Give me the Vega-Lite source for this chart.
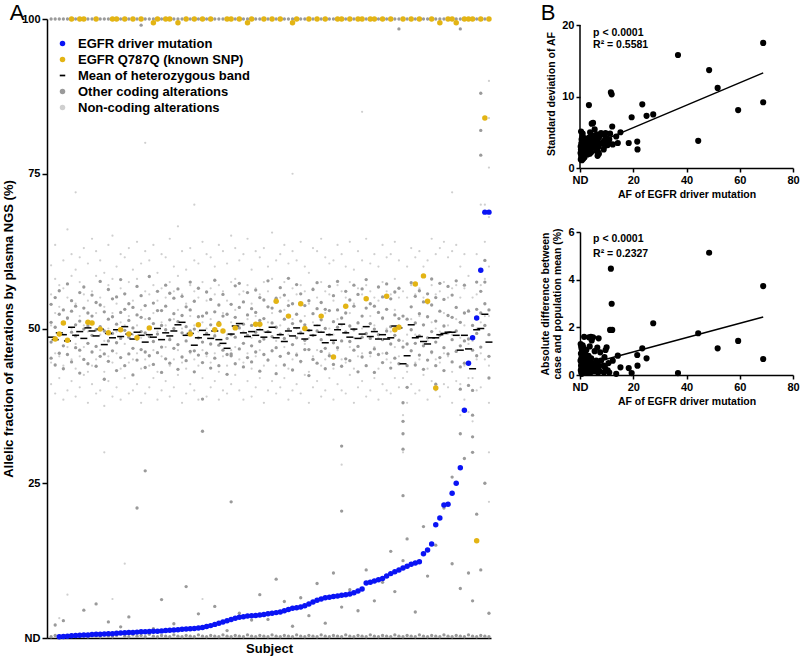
{
"$schema": "https://vega.github.io/schema/vega-lite/v6.json",
"background": "white",
"padding": {"left": 2, "top": 1, "right": 1, "bottom": 1},
"spacing": 44,
"config": {
  "font": "Liberation Sans",
  "view": {"stroke": null},
  "axis": {"grid": false, "domainColor": "black", "tickColor": "black", "labelColor": "black", "titleColor": "black", "labelFont": "Liberation Sans", "titleFont": "Liberation Sans", "labelFontWeight": "bold", "titleFontWeight": "bold", "domainWidth": 1.5, "tickWidth": 1.5}
},
"datasets": {
"drv": [{"s":3,"v":0.2},{"s":4,"v":0.25},{"s":5,"v":0.3},{"s":6,"v":0.35},{"s":7,"v":0.4},{"s":8,"v":0.45},{"s":9,"v":0.5},{"s":10,"v":0.5},{"s":11,"v":0.55},{"s":12,"v":0.6},{"s":13,"v":0.6},{"s":14,"v":0.65},{"s":15,"v":0.7},{"s":16,"v":0.7},{"s":17,"v":0.75},{"s":18,"v":0.8},{"s":19,"v":0.85},{"s":20,"v":0.9},{"s":21,"v":0.9},{"s":22,"v":0.95},{"s":23,"v":1.0},{"s":24,"v":1.0},{"s":25,"v":1.05},{"s":26,"v":1.1},{"s":27,"v":1.1},{"s":28,"v":1.15},{"s":29,"v":1.2},{"s":30,"v":1.25},{"s":31,"v":1.3},{"s":32,"v":1.35},{"s":33,"v":1.4},{"s":34,"v":1.45},{"s":35,"v":1.5},{"s":36,"v":1.55},{"s":37,"v":1.6},{"s":38,"v":1.7},{"s":39,"v":1.85},{"s":40,"v":2.0},{"s":41,"v":2.2},{"s":42,"v":2.4},{"s":43,"v":2.6},{"s":44,"v":2.8},{"s":45,"v":3.0},{"s":46,"v":3.2},{"s":47,"v":3.35},{"s":48,"v":3.45},{"s":49,"v":3.55},{"s":50,"v":3.6},{"s":51,"v":3.65},{"s":52,"v":3.7},{"s":53,"v":3.8},{"s":54,"v":3.9},{"s":55,"v":4.0},{"s":56,"v":4.1},{"s":57,"v":4.2},{"s":58,"v":4.4},{"s":59,"v":4.6},{"s":60,"v":4.8},{"s":61,"v":4.9},{"s":62,"v":5.0},{"s":63,"v":5.2},{"s":64,"v":5.5},{"s":65,"v":5.8},{"s":66,"v":6.1},{"s":67,"v":6.3},{"s":68,"v":6.5},{"s":69,"v":6.6},{"s":70,"v":6.7},{"s":71,"v":6.8},{"s":72,"v":6.9},{"s":73,"v":7.0},{"s":74,"v":7.1},{"s":75,"v":7.3},{"s":76,"v":7.6},{"s":77,"v":7.9},{"s":78,"v":8.9},{"s":79,"v":9.0},{"s":80,"v":9.2},{"s":81,"v":9.4},{"s":82,"v":9.6},{"s":83,"v":10.0},{"s":84,"v":10.4},{"s":85,"v":10.7},{"s":86,"v":11.0},{"s":87,"v":11.3},{"s":88,"v":11.6},{"s":89,"v":11.9},{"s":90,"v":12.1},{"s":91,"v":12.3},{"s":92,"v":13.6},{"s":93,"v":14.2},{"s":94,"v":15.2},{"s":95,"v":18.3},{"s":96,"v":19.4},{"s":97,"v":21.5},{"s":98,"v":21.6},{"s":99,"v":23.4},{"s":100,"v":25.0},{"s":101,"v":27.5},{"s":102,"v":36.8},{"s":103,"v":44.4},{"s":104,"v":48.5},{"s":105,"v":51.7},{"s":106,"v":59.4},{"s":107,"v":68.8},{"s":108,"v":68.8}],
"snp": [{"s":2,"v":48.3},{"s":3,"v":49.1},{"s":4,"v":50.9},{"s":5,"v":48.1},{"s":10,"v":51.0},{"s":11,"v":50.9},{"s":13,"v":49.9},{"s":15,"v":49.3},{"s":18,"v":49.8},{"s":20,"v":49.1},{"s":22,"v":48.5},{"s":25,"v":50.1},{"s":35,"v":49.1},{"s":37,"v":50.6},{"s":41,"v":49.8},{"s":42,"v":50.7},{"s":43,"v":49.6},{"s":46,"v":50.1},{"s":51,"v":50.7},{"s":52,"v":50.7},{"s":56,"v":54.4},{"s":59,"v":52.0},{"s":62,"v":54.0},{"s":63,"v":50.0},{"s":67,"v":52.0},{"s":70,"v":45.4},{"s":73,"v":53.6},{"s":78,"v":54.8},{"s":83,"v":55.2},{"s":85,"v":49.8},{"s":86,"v":50.2},{"s":90,"v":57.2},{"s":92,"v":58.5},{"s":93,"v":54.4},{"s":95,"v":40.4},{"s":105,"v":15.7},{"s":107,"v":84.0},
{"s":6,"v":100},{"s":8,"v":100},{"s":9,"v":100},{"s":12,"v":100},{"s":16,"v":100},{"s":17,"v":100},{"s":19,"v":100},{"s":21,"v":100},{"s":23,"v":100},{"s":26,"v":99.4},{"s":27,"v":100},{"s":29,"v":100},{"s":30,"v":100},{"s":32,"v":99.4},{"s":34,"v":100},{"s":36,"v":100},{"s":38,"v":100},{"s":40,"v":100},{"s":44,"v":100},{"s":45,"v":100},{"s":47,"v":100},{"s":49,"v":99.4},{"s":50,"v":100},{"s":53,"v":100},{"s":55,"v":100},{"s":57,"v":100},{"s":60,"v":99.4},{"s":61,"v":100},{"s":64,"v":100},{"s":66,"v":100},{"s":68,"v":100},{"s":71,"v":100},{"s":72,"v":100},{"s":74,"v":100},{"s":76,"v":100},{"s":77,"v":100},{"s":79,"v":100},{"s":80,"v":100},{"s":82,"v":100},{"s":84,"v":100},{"s":87,"v":100},{"s":89,"v":100},{"s":91,"v":100},{"s":94,"v":100},{"s":96,"v":99.4},{"s":98,"v":100},{"s":99,"v":100},{"s":100,"v":99.4},{"s":102,"v":100},{"s":103,"v":100},{"s":104,"v":100},{"s":106,"v":100},{"s":108,"v":100}],
"mean": [{"s":1,"v":48.6},{"s":2,"v":48.2},{"s":3,"v":49.3},{"s":4,"v":49.0},{"s":5,"v":48.0},{"s":6,"v":50.2},{"s":7,"v":48.9},{"s":8,"v":49.5},{"s":9,"v":48.4},{"s":10,"v":50.1},{"s":11,"v":49.6},{"s":12,"v":48.8},{"s":13,"v":49.9},{"s":14,"v":47.4},{"s":15,"v":49.2},{"s":16,"v":48.5},{"s":17,"v":49.8},{"s":18,"v":48.7},{"s":19,"v":50.3},{"s":20,"v":49.1},{"s":21,"v":48.3},{"s":22,"v":49.4},{"s":23,"v":48.9},{"s":24,"v":47.8},{"s":25,"v":49.0},{"s":26,"v":48.6},{"s":27,"v":50.0},{"s":28,"v":48.2},{"s":29,"v":49.3},{"s":30,"v":48.8},{"s":31,"v":49.6},{"s":32,"v":50.6},{"s":33,"v":51.0},{"s":34,"v":48.9},{"s":35,"v":49.2},{"s":36,"v":47.3},{"s":37,"v":48.5},{"s":38,"v":49.7},{"s":39,"v":49.0},{"s":40,"v":48.4},{"s":41,"v":49.6},{"s":42,"v":48.2},{"s":43,"v":47.6},{"s":44,"v":46.8},{"s":45,"v":49.1},{"s":46,"v":50.4},{"s":47,"v":50.8},{"s":48,"v":49.3},{"s":49,"v":48.7},{"s":50,"v":49.5},{"s":51,"v":48.9},{"s":52,"v":49.8},{"s":53,"v":48.6},{"s":54,"v":49.4},{"s":55,"v":50.2},{"s":56,"v":48.5},{"s":57,"v":49.0},{"s":58,"v":47.9},{"s":59,"v":49.6},{"s":60,"v":48.8},{"s":61,"v":50.1},{"s":62,"v":49.2},{"s":63,"v":48.3},{"s":64,"v":49.7},{"s":65,"v":48.9},{"s":66,"v":50.5},{"s":67,"v":49.4},{"s":68,"v":47.7},{"s":69,"v":49.0},{"s":70,"v":48.1},{"s":71,"v":49.8},{"s":72,"v":50.7},{"s":73,"v":49.3},{"s":74,"v":48.6},{"s":75,"v":49.9},{"s":76,"v":48.4},{"s":77,"v":49.1},{"s":78,"v":50.3},{"s":79,"v":48.7},{"s":80,"v":49.5},{"s":81,"v":48.3},{"s":82,"v":49.0},{"s":83,"v":48.3},{"s":84,"v":48.5},{"s":85,"v":50.4},{"s":86,"v":50.1},{"s":87,"v":44.3},{"s":88,"v":45.6},{"s":89,"v":50.6},{"s":90,"v":48.5},{"s":91,"v":48.7},{"s":92,"v":47.9},{"s":93,"v":47.5},{"s":94,"v":48.5},{"s":95,"v":48.5},{"s":96,"v":49.0},{"s":97,"v":49.2},{"s":98,"v":49.4},{"s":99,"v":49.4},{"s":100,"v":48.9},{"s":101,"v":46.5},{"s":102,"v":48.9},{"s":103,"v":46.7},{"s":104,"v":43.5},{"s":105,"v":49.8},{"s":106,"v":50.0},{"s":107,"v":52.3},{"s":108,"v":47.8}],
"cod": [
{"s":1,"v":100},{"s":1,"v":45.2},{"s":1,"v":47.8},{"s":1,"v":51.0},{"s":1,"v":53.9},{"s":1,"v":0.2},
{"s":2,"v":100},{"s":2,"v":44.1},{"s":2,"v":48.5},{"s":2,"v":50.2},{"s":2,"v":55.0},{"s":2,"v":0.4},{"s":2,"v":2.1},
{"s":3,"v":100},{"s":3,"v":46.0},{"s":3,"v":49.0},{"s":3,"v":52.3},{"s":3,"v":56.1},{"s":3,"v":0.3},
{"s":4,"v":100},{"s":4,"v":43.5},{"s":4,"v":47.2},{"s":4,"v":50.9},{"s":4,"v":53.0},{"s":4,"v":2.8},
{"s":5,"v":100},{"s":5,"v":45.8},{"s":5,"v":48.1},{"s":5,"v":51.7},{"s":5,"v":57.2},{"s":5,"v":0.2},
{"s":6,"v":100},{"s":6,"v":44.6},{"s":6,"v":49.4},{"s":6,"v":52.8},{"s":6,"v":54.5},{"s":6,"v":0.5},
{"s":7,"v":100},{"s":7,"v":46.9},{"s":7,"v":48.8},{"s":7,"v":50.6},{"s":7,"v":53.6},
{"s":8,"v":100},{"s":8,"v":42.8},{"s":8,"v":46.5},{"s":8,"v":51.2},{"s":8,"v":55.8},{"s":8,"v":0.3},
{"s":9,"v":100},{"s":9,"v":45.0},{"s":9,"v":49.9},{"s":9,"v":53.3},{"s":9,"v":56.7},{"s":9,"v":0.4},{"s":9,"v":4.5},
{"s":10,"v":100},{"s":10,"v":44.3},{"s":10,"v":47.6},{"s":10,"v":50.4},{"s":10,"v":52.5},{"s":10,"v":0.2},
{"s":11,"v":100},{"s":11,"v":46.2},{"s":11,"v":48.9},{"s":11,"v":52.0},{"s":11,"v":55.4},{"s":11,"v":0.6},
{"s":12,"v":100},{"s":12,"v":43.9},{"s":12,"v":47.1},{"s":12,"v":49.8},{"s":12,"v":54.2},{"s":12,"v":0.3},{"s":12,"v":5.5},
{"s":13,"v":100},{"s":13,"v":45.5},{"s":13,"v":50.3},{"s":13,"v":53.8},{"s":13,"v":57.6},{"s":13,"v":0.2},
{"s":14,"v":100},{"s":14,"v":41.8},{"s":14,"v":45.9},{"s":14,"v":49.6},{"s":14,"v":52.7},{"s":14,"v":0.5},
{"s":15,"v":100},{"s":15,"v":44.7},{"s":15,"v":48.0},{"s":15,"v":51.5},{"s":15,"v":56.3},{"s":15,"v":0.3},{"s":15,"v":2.6},
{"s":16,"v":100},{"s":16,"v":46.4},{"s":16,"v":49.2},{"s":16,"v":51.9},{"s":16,"v":54.8},{"s":16,"v":0.2},
{"s":17,"v":100},{"s":17,"v":43.2},{"s":17,"v":47.7},{"s":17,"v":50.7},{"s":17,"v":55.1},{"s":17,"v":0.4},
{"s":18,"v":100},{"s":18,"v":45.3},{"s":18,"v":48.4},{"s":18,"v":52.6},{"s":18,"v":57.9},{"s":18,"v":1.8},
{"s":19,"v":100},{"s":19,"v":44.0},{"s":19,"v":49.7},{"s":19,"v":53.1},{"s":19,"v":55.6},{"s":19,"v":0.3},
{"s":20,"v":100},{"s":20,"v":45.9},{"s":20,"v":48.6},{"s":20,"v":51.3},{"s":20,"v":54.0},{"s":20,"v":0.2},{"s":20,"v":3.4},
{"s":21,"v":100},{"s":21,"v":42.5},{"s":21,"v":46.8},{"s":21,"v":50.1},{"s":21,"v":53.4},{"s":21,"v":0.5},
{"s":22,"v":100},{"s":22,"v":44.9},{"s":22,"v":48.3},{"s":22,"v":52.2},{"s":22,"v":56.8},{"s":22,"v":0.3},{"s":22,"v":21.0},
{"s":23,"v":100},{"s":23,"v":99.0},{"s":23,"v":46.6},{"s":23,"v":49.5},{"s":23,"v":51.8},{"s":23,"v":55.3},{"s":23,"v":0.4},
{"s":24,"v":100},{"s":24,"v":43.7},{"s":24,"v":46.2},{"s":24,"v":49.3},{"s":24,"v":53.7},{"s":24,"v":0.2},{"s":24,"v":27.0},
{"s":25,"v":100},{"s":25,"v":45.6},{"s":25,"v":48.7},{"s":25,"v":51.6},{"s":25,"v":58.4},{"s":25,"v":0.6},
{"s":26,"v":100},{"s":26,"v":44.2},{"s":26,"v":47.9},{"s":26,"v":50.8},{"s":26,"v":54.1},{"s":26,"v":0.3},{"s":26,"v":1.5},
{"s":27,"v":100},{"s":27,"v":46.1},{"s":27,"v":49.1},{"s":27,"v":52.9},{"s":27,"v":56.0},{"s":27,"v":0.2},
{"s":28,"v":100},{"s":28,"v":42.9},{"s":28,"v":47.0},{"s":28,"v":50.5},{"s":28,"v":52.9},{"s":28,"v":0.4},{"s":28,"v":6.2},
{"s":29,"v":100},{"s":29,"v":45.1},{"s":29,"v":49.8},{"s":29,"v":53.6},{"s":29,"v":57.0},{"s":29,"v":0.3},
{"s":30,"v":100},{"s":30,"v":44.4},{"s":30,"v":48.2},{"s":30,"v":51.4},{"s":30,"v":55.7},{"s":30,"v":0.2},
{"s":31,"v":100},{"s":31,"v":46.8},{"s":31,"v":50.0},{"s":31,"v":52.4},{"s":31,"v":54.9},{"s":31,"v":0.5},{"s":31,"v":2.3},
{"s":32,"v":100},{"s":32,"v":43.4},{"s":32,"v":47.4},{"s":32,"v":51.1},{"s":32,"v":56.4},{"s":32,"v":0.3},
{"s":33,"v":100},{"s":33,"v":45.4},{"s":33,"v":49.3},{"s":33,"v":52.1},{"s":33,"v":55.2},{"s":33,"v":0.2},
{"s":34,"v":100},{"s":34,"v":44.8},{"s":34,"v":48.0},{"s":34,"v":50.3},{"s":34,"v":53.5},{"s":34,"v":0.4},{"s":34,"v":8.3},
{"s":35,"v":100},{"s":35,"v":46.3},{"s":35,"v":49.6},{"s":35,"v":53.0},{"s":35,"v":57.5},{"s":35,"v":0.3},
{"s":36,"v":100},{"s":36,"v":43.0},{"s":36,"v":46.4},{"s":36,"v":49.9},{"s":36,"v":54.4},{"s":36,"v":0.2},
{"s":37,"v":100},{"s":37,"v":45.7},{"s":37,"v":48.5},{"s":37,"v":51.9},{"s":37,"v":56.5},{"s":37,"v":0.5},{"s":37,"v":3.9},
{"s":38,"v":100},{"s":38,"v":44.5},{"s":38,"v":47.8},{"s":38,"v":38.6},{"s":38,"v":33.4},{"s":38,"v":52.0},{"s":38,"v":0.3},
{"s":39,"v":100},{"s":39,"v":46.0},{"s":39,"v":49.2},{"s":39,"v":52.5},{"s":39,"v":55.9},{"s":39,"v":0.2},
{"s":40,"v":100},{"s":40,"v":43.6},{"s":40,"v":47.5},{"s":40,"v":50.6},{"s":40,"v":54.7},{"s":40,"v":0.4},
{"s":41,"v":100},{"s":41,"v":45.2},{"s":41,"v":48.8},{"s":41,"v":52.7},{"s":41,"v":57.8},{"s":41,"v":0.3},{"s":41,"v":5.1},
{"s":42,"v":100},{"s":42,"v":44.0},{"s":42,"v":47.3},{"s":42,"v":51.0},{"s":42,"v":53.8},{"s":42,"v":0.2},
{"s":43,"v":100},{"s":43,"v":46.5},{"s":43,"v":49.7},{"s":43,"v":52.0},{"s":43,"v":55.5},{"s":43,"v":0.5},
{"s":44,"v":100},{"s":44,"v":42.6},{"s":44,"v":45.8},{"s":44,"v":48.4},{"s":44,"v":52.3},{"s":44,"v":0.3},{"s":44,"v":1.2},
{"s":45,"v":100},{"s":45,"v":45.9},{"s":45,"v":49.0},{"s":45,"v":45.6},{"s":45,"v":53.9},{"s":45,"v":0.2},{"s":45,"v":22.0},
{"s":46,"v":100},{"s":46,"v":44.3},{"s":46,"v":48.6},{"s":46,"v":51.8},{"s":46,"v":56.9},{"s":46,"v":0.4},
{"s":47,"v":100},{"s":47,"v":46.7},{"s":47,"v":50.1},{"s":47,"v":53.4},{"s":47,"v":57.3},{"s":47,"v":0.3},{"s":47,"v":4.0},
{"s":48,"v":100},{"s":48,"v":43.8},{"s":48,"v":47.6},{"s":48,"v":50.7},{"s":48,"v":54.3},{"s":48,"v":0.2},
{"s":49,"v":100},{"s":49,"v":45.3},{"s":49,"v":48.9},{"s":49,"v":52.2},{"s":49,"v":55.8},{"s":49,"v":0.5},
{"s":50,"v":100},{"s":50,"v":44.6},{"s":50,"v":47.2},{"s":50,"v":50.5},{"s":50,"v":53.2},{"s":50,"v":0.3},{"s":50,"v":2.9},
{"s":51,"v":100},{"s":51,"v":46.2},{"s":51,"v":49.4},{"s":51,"v":52.6},{"s":51,"v":56.2},{"s":51,"v":0.2},
{"s":52,"v":100},{"s":52,"v":43.1},{"s":52,"v":47.9},{"s":52,"v":51.3},{"s":52,"v":55.0},{"s":52,"v":0.4},{"s":52,"v":7.0},
{"s":53,"v":100},{"s":53,"v":45.8},{"s":53,"v":48.3},{"s":53,"v":51.6},{"s":53,"v":54.6},{"s":53,"v":0.3},
{"s":54,"v":100},{"s":54,"v":44.9},{"s":54,"v":49.5},{"s":54,"v":53.5},{"s":54,"v":57.7},{"s":54,"v":0.2},{"s":54,"v":3.0},
{"s":55,"v":100},{"s":55,"v":46.4},{"s":55,"v":48.7},{"s":55,"v":50.9},{"s":55,"v":53.3},{"s":55,"v":0.5},
{"s":56,"v":100},{"s":56,"v":42.7},{"s":56,"v":46.9},{"s":56,"v":50.2},{"s":56,"v":54.9},{"s":56,"v":0.3},{"s":56,"v":9.5},
{"s":57,"v":100},{"s":57,"v":45.5},{"s":57,"v":49.1},{"s":57,"v":52.8},{"s":57,"v":56.6},{"s":57,"v":0.2},
{"s":58,"v":100},{"s":58,"v":44.1},{"s":58,"v":48.4},{"s":58,"v":51.5},{"s":58,"v":55.4},{"s":58,"v":0.4},{"s":58,"v":5.9},
{"s":59,"v":100},{"s":59,"v":46.0},{"s":59,"v":49.9},{"s":59,"v":53.7},{"s":59,"v":58.1},{"s":59,"v":0.3},
{"s":60,"v":100},{"s":60,"v":43.3},{"s":60,"v":47.4},{"s":60,"v":50.8},{"s":60,"v":54.0},{"s":60,"v":0.2},{"s":60,"v":1.9},
{"s":61,"v":100},{"s":61,"v":45.7},{"s":61,"v":48.5},{"s":61,"v":52.3},{"s":61,"v":57.1},{"s":61,"v":0.5},
{"s":62,"v":100},{"s":62,"v":44.7},{"s":62,"v":49.3},{"s":62,"v":51.2},{"s":62,"v":55.6},{"s":62,"v":0.3},{"s":62,"v":6.5},
{"s":63,"v":100},{"s":63,"v":46.6},{"s":63,"v":48.1},{"s":63,"v":50.6},{"s":63,"v":53.7},{"s":63,"v":0.2},
{"s":64,"v":100},{"s":64,"v":42.4},{"s":64,"v":46.6},{"s":64,"v":49.7},{"s":64,"v":54.5},{"s":64,"v":0.4},{"s":64,"v":3.6},
{"s":65,"v":100},{"s":65,"v":45.0},{"s":65,"v":48.9},{"s":65,"v":52.4},{"s":65,"v":56.3},{"s":65,"v":0.3},
{"s":66,"v":100},{"s":66,"v":44.4},{"s":66,"v":49.6},{"s":66,"v":53.2},{"s":66,"v":57.4},{"s":66,"v":0.2},{"s":66,"v":8.8},
{"s":67,"v":100},{"s":67,"v":46.3},{"s":67,"v":48.2},{"s":67,"v":51.4},{"s":67,"v":54.2},{"s":67,"v":0.5},
{"s":68,"v":100},{"s":68,"v":43.5},{"s":68,"v":46.8},{"s":68,"v":50.0},{"s":68,"v":53.1},{"s":68,"v":0.3},{"s":68,"v":2.4},
{"s":69,"v":100},{"s":69,"v":45.6},{"s":69,"v":49.0},{"s":69,"v":52.9},{"s":69,"v":56.8},{"s":69,"v":0.2},
{"s":70,"v":100},{"s":70,"v":44.2},{"s":70,"v":47.7},{"s":70,"v":51.1},{"s":70,"v":55.3},{"s":70,"v":0.4},{"s":70,"v":10.5},
{"s":71,"v":100},{"s":71,"v":46.9},{"s":71,"v":50.2},{"s":71,"v":53.0},{"s":71,"v":57.6},{"s":71,"v":0.3},
{"s":72,"v":100},{"s":72,"v":43.9},{"s":72,"v":48.0},{"s":72,"v":31.0},{"s":72,"v":20.5},{"s":72,"v":51.7},{"s":72,"v":0.2},{"s":72,"v":5.0},
{"s":73,"v":100},{"s":73,"v":45.1},{"s":73,"v":49.4},{"s":73,"v":52.5},{"s":73,"v":56.0},{"s":73,"v":0.5},
{"s":74,"v":100},{"s":74,"v":44.8},{"s":74,"v":47.9},{"s":74,"v":50.4},{"s":74,"v":54.6},{"s":74,"v":0.3},{"s":74,"v":7.8},
{"s":75,"v":100},{"s":75,"v":46.5},{"s":75,"v":49.8},{"s":75,"v":53.6},{"s":75,"v":57.0},{"s":75,"v":0.2},
{"s":76,"v":100},{"s":76,"v":43.0},{"s":76,"v":47.1},{"s":76,"v":50.9},{"s":76,"v":55.5},{"s":76,"v":0.4},{"s":76,"v":4.4},
{"s":77,"v":100},{"s":77,"v":45.4},{"s":77,"v":48.6},{"s":77,"v":52.0},{"s":77,"v":56.4},{"s":77,"v":0.3},
{"s":78,"v":100},{"s":78,"v":44.0},{"s":78,"v":49.2},{"s":78,"v":53.3},{"s":78,"v":57.9},{"s":78,"v":0.2},{"s":78,"v":11.0},
{"s":79,"v":100},{"s":79,"v":46.1},{"s":79,"v":48.4},{"s":79,"v":50.8},{"s":79,"v":54.0},{"s":79,"v":0.5},
{"s":80,"v":100},{"s":80,"v":42.9},{"s":80,"v":46.7},{"s":80,"v":49.9},{"s":80,"v":53.6},{"s":80,"v":0.3},{"s":80,"v":6.0},
{"s":81,"v":100},{"s":81,"v":45.8},{"s":81,"v":49.0},{"s":81,"v":52.6},{"s":81,"v":56.7},{"s":81,"v":0.2},
{"s":82,"v":100},{"s":82,"v":44.5},{"s":82,"v":48.2},{"s":82,"v":51.7},{"s":82,"v":55.1},{"s":82,"v":0.4},{"s":82,"v":9.0},
{"s":83,"v":100},{"s":83,"v":46.0},{"s":83,"v":49.6},{"s":83,"v":53.1},{"s":83,"v":57.2},{"s":83,"v":0.3},
{"s":84,"v":100},{"s":84,"v":43.6},{"s":84,"v":47.5},{"s":84,"v":50.3},{"s":84,"v":54.8},{"s":84,"v":0.2},{"s":84,"v":14.0},
{"s":85,"v":100},{"s":85,"v":45.2},{"s":85,"v":48.9},{"s":85,"v":52.2},{"s":85,"v":55.9},{"s":85,"v":0.5},{"s":85,"v":7.5},
{"s":86,"v":100},{"s":86,"v":98.4},{"s":86,"v":44.3},{"s":86,"v":48.1},{"s":86,"v":51.6},{"s":86,"v":56.5},{"s":86,"v":0.3},
{"s":87,"v":100},{"s":87,"v":38.0},{"s":87,"v":35.0},{"s":87,"v":33.0},{"s":87,"v":30.5},{"s":87,"v":47.0},{"s":87,"v":52.0},{"s":87,"v":23.0},{"s":87,"v":0.2},{"s":87,"v":12.5},
{"s":88,"v":100},{"s":88,"v":40.5},{"s":88,"v":44.0},{"s":88,"v":47.5},{"s":88,"v":51.5},{"s":88,"v":0.4},{"s":88,"v":16.0},
{"s":89,"v":100},{"s":89,"v":46.4},{"s":89,"v":49.8},{"s":89,"v":53.5},{"s":89,"v":57.4},{"s":89,"v":0.3},
{"s":90,"v":100},{"s":90,"v":44.1},{"s":90,"v":47.6},{"s":90,"v":50.9},{"s":90,"v":55.2},{"s":90,"v":0.2},{"s":90,"v":4.2},
{"s":91,"v":100},{"s":91,"v":45.7},{"s":91,"v":48.8},{"s":91,"v":52.4},{"s":91,"v":56.1},{"s":91,"v":0.5},
{"s":92,"v":100},{"s":92,"v":43.4},{"s":92,"v":47.2},{"s":92,"v":50.6},{"s":92,"v":54.3},{"s":92,"v":0.3},{"s":92,"v":18.0},
{"s":93,"v":100},{"s":93,"v":44.9},{"s":93,"v":48.5},{"s":93,"v":51.9},{"s":93,"v":55.6},{"s":93,"v":0.2},{"s":93,"v":10.0},
{"s":94,"v":100},{"s":94,"v":46.2},{"s":94,"v":49.5},{"s":94,"v":53.8},{"s":94,"v":58.0},{"s":94,"v":0.4},
{"s":95,"v":100},{"s":95,"v":44.0},{"s":95,"v":47.8},{"s":95,"v":51.2},{"s":95,"v":55.0},{"s":95,"v":0.3},{"s":95,"v":41.0},{"s":95,"v":15.0},
{"s":96,"v":100},{"s":96,"v":45.3},{"s":96,"v":48.9},{"s":96,"v":52.8},{"s":96,"v":57.3},{"s":96,"v":0.2},
{"s":97,"v":100},{"s":97,"v":43.2},{"s":97,"v":46.9},{"s":97,"v":50.4},{"s":97,"v":54.7},{"s":97,"v":0.5},{"s":97,"v":21.0},
{"s":98,"v":100},{"s":98,"v":45.9},{"s":98,"v":49.3},{"s":98,"v":52.1},{"s":98,"v":56.8},{"s":98,"v":0.3},
{"s":99,"v":100},{"s":99,"v":44.6},{"s":99,"v":48.2},{"s":99,"v":51.8},{"s":99,"v":55.4},{"s":99,"v":0.2},{"s":99,"v":12.0},{"s":99,"v":26.0},
{"s":100,"v":100},{"s":100,"v":46.3},{"s":100,"v":49.6},{"s":100,"v":53.4},{"s":100,"v":57.7},{"s":100,"v":0.4},
{"s":101,"v":100},{"s":101,"v":98.4},{"s":101,"v":40.2},{"s":101,"v":43.8},{"s":101,"v":47.2},{"s":101,"v":51.0},{"s":101,"v":0.3},{"s":101,"v":8.0},{"s":101,"v":33.0},
{"s":102,"v":100},{"s":102,"v":44.4},{"s":102,"v":48.0},{"s":102,"v":52.5},{"s":102,"v":57.0},{"s":102,"v":0.2},{"s":102,"v":29.0},
{"s":103,"v":100},{"s":103,"v":40.8},{"s":103,"v":44.5},{"s":103,"v":48.3},{"s":103,"v":52.8},{"s":103,"v":0.5},{"s":103,"v":10.5},
{"s":104,"v":100},{"s":104,"v":36.0},{"s":104,"v":32.5},{"s":104,"v":30.0},{"s":104,"v":40.0},{"s":104,"v":46.5},{"s":104,"v":50.5},{"s":104,"v":0.3},{"s":104,"v":6.0},
{"s":105,"v":100},{"s":105,"v":45.6},{"s":105,"v":49.2},{"s":105,"v":53.1},{"s":105,"v":57.5},{"s":105,"v":0.2},{"s":105,"v":20.0},
{"s":106,"v":100},{"s":106,"v":88.0},{"s":106,"v":82.0},{"s":106,"v":78.0},{"s":106,"v":47.0},{"s":106,"v":52.5},{"s":106,"v":56.0},{"s":106,"v":0.4},{"s":106,"v":11.0},
{"s":107,"v":100},{"s":107,"v":50.5},{"s":107,"v":54.0},{"s":107,"v":57.5},{"s":107,"v":61.0},{"s":107,"v":0.3},{"s":107,"v":25.0},
{"s":108,"v":100},{"s":108,"v":42.0},{"s":108,"v":45.5},{"s":108,"v":49.0},{"s":108,"v":53.0},{"s":108,"v":0.2},{"s":108,"v":4.0}],
"non": [
{"s":1,"v":41.0},{"s":1,"v":44.5},{"s":1,"v":50.5},{"s":1,"v":55.5},{"s":1,"v":60.2},
{"s":2,"v":39.5},{"s":2,"v":46.0},{"s":2,"v":52.5},{"s":2,"v":58.0},{"s":2,"v":63.5},
{"s":3,"v":42.0},{"s":3,"v":45.5},{"s":3,"v":53.5},{"s":3,"v":57.0},{"s":3,"v":3.2},
{"s":4,"v":38.5},{"s":4,"v":44.0},{"s":4,"v":49.0},{"s":4,"v":56.5},{"s":4,"v":61.0},
{"s":5,"v":40.0},{"s":5,"v":47.0},{"s":5,"v":51.5},{"s":5,"v":55.0},{"s":5,"v":66.0},{"s":5,"v":7.0},
{"s":6,"v":41.5},{"s":6,"v":45.0},{"s":6,"v":50.0},{"s":6,"v":58.5},{"s":6,"v":62.0},
{"s":7,"v":39.0},{"s":7,"v":43.5},{"s":7,"v":47.5},{"s":7,"v":54.0},{"s":7,"v":59.5},{"s":7,"v":72.0},
{"s":8,"v":40.5},{"s":8,"v":45.5},{"s":8,"v":52.0},{"s":8,"v":57.5},{"s":8,"v":61.5},
{"s":9,"v":42.5},{"s":9,"v":47.0},{"s":9,"v":50.5},{"s":9,"v":55.5},{"s":9,"v":63.0},
{"s":10,"v":38.0},{"s":10,"v":43.0},{"s":10,"v":49.5},{"s":10,"v":54.5},{"s":10,"v":60.5},
{"s":11,"v":41.0},{"s":11,"v":44.0},{"s":11,"v":51.0},{"s":11,"v":56.0},{"s":11,"v":64.5},
{"s":12,"v":39.5},{"s":12,"v":45.0},{"s":12,"v":52.5},{"s":12,"v":58.5},{"s":12,"v":62.5},
{"s":13,"v":40.0},{"s":13,"v":46.5},{"s":13,"v":49.0},{"s":13,"v":55.0},{"s":13,"v":61.0},
{"s":14,"v":37.5},{"s":14,"v":43.0},{"s":14,"v":48.0},{"s":14,"v":53.5},{"s":14,"v":59.0},{"s":14,"v":30.0},
{"s":15,"v":41.5},{"s":15,"v":45.5},{"s":15,"v":50.0},{"s":15,"v":57.0},{"s":15,"v":63.5},
{"s":16,"v":39.0},{"s":16,"v":44.5},{"s":16,"v":52.5},{"s":16,"v":58.0},{"s":16,"v":65.0},{"s":16,"v":6.3},
{"s":17,"v":40.5},{"s":17,"v":46.0},{"s":17,"v":49.5},{"s":17,"v":54.0},{"s":17,"v":60.0},
{"s":18,"v":38.5},{"s":18,"v":43.5},{"s":18,"v":51.0},{"s":18,"v":56.5},{"s":18,"v":62.0},
{"s":19,"v":42.0},{"s":19,"v":47.5},{"s":19,"v":50.5},{"s":19,"v":55.5},{"s":19,"v":61.5},{"s":19,"v":12.0},
{"s":20,"v":39.5},{"s":20,"v":44.5},{"s":20,"v":52.0},{"s":20,"v":57.5},{"s":20,"v":63.0},
{"s":21,"v":40.0},{"s":21,"v":45.0},{"s":21,"v":49.0},{"s":21,"v":54.5},{"s":21,"v":59.5},
{"s":22,"v":41.0},{"s":22,"v":46.0},{"s":22,"v":50.5},{"s":22,"v":58.0},{"s":22,"v":64.0},
{"s":23,"v":38.0},{"s":23,"v":43.5},{"s":23,"v":48.5},{"s":23,"v":53.0},{"s":23,"v":60.5},
{"s":24,"v":39.5},{"s":24,"v":45.0},{"s":24,"v":51.5},{"s":24,"v":56.0},{"s":24,"v":62.5},{"s":24,"v":80.0},
{"s":25,"v":40.5},{"s":25,"v":44.0},{"s":25,"v":50.0},{"s":25,"v":55.5},{"s":25,"v":61.0},
{"s":26,"v":42.0},{"s":26,"v":46.5},{"s":26,"v":52.5},{"s":26,"v":57.0},{"s":26,"v":63.5},
{"s":27,"v":38.5},{"s":27,"v":43.0},{"s":27,"v":49.5},{"s":27,"v":54.5},{"s":27,"v":59.0},
{"s":28,"v":40.0},{"s":28,"v":45.5},{"s":28,"v":51.0},{"s":28,"v":56.5},{"s":28,"v":62.0},
{"s":29,"v":41.5},{"s":29,"v":47.0},{"s":29,"v":50.5},{"s":29,"v":55.0},{"s":29,"v":61.5},
{"s":30,"v":39.0},{"s":30,"v":44.0},{"s":30,"v":48.5},{"s":30,"v":57.5},{"s":30,"v":64.5},
{"s":31,"v":40.5},{"s":31,"v":45.0},{"s":31,"v":51.5},{"s":31,"v":56.0},{"s":31,"v":60.0},
{"s":32,"v":42.5},{"s":32,"v":46.5},{"s":32,"v":53.0},{"s":32,"v":58.5},{"s":32,"v":66.5},
{"s":33,"v":38.0},{"s":33,"v":44.5},{"s":33,"v":50.0},{"s":33,"v":55.5},{"s":33,"v":62.5},
{"s":34,"v":39.5},{"s":34,"v":43.5},{"s":34,"v":49.0},{"s":34,"v":54.0},{"s":34,"v":59.5},
{"s":35,"v":41.0},{"s":35,"v":46.0},{"s":35,"v":52.0},{"s":35,"v":57.0},{"s":35,"v":63.0},
{"s":36,"v":40.0},{"s":36,"v":45.0},{"s":36,"v":50.5},{"s":36,"v":56.0},{"s":36,"v":61.0},{"s":36,"v":70.0},
{"s":37,"v":38.5},{"s":37,"v":44.0},{"s":37,"v":49.5},{"s":37,"v":55.0},{"s":37,"v":60.5},
{"s":38,"v":42.0},{"s":38,"v":46.5},{"s":38,"v":51.0},{"s":38,"v":57.5},{"s":38,"v":64.0},{"s":38,"v":6.3},
{"s":39,"v":39.0},{"s":39,"v":45.5},{"s":39,"v":50.0},{"s":39,"v":54.5},{"s":39,"v":62.0},
{"s":40,"v":40.5},{"s":40,"v":44.5},{"s":40,"v":51.5},{"s":40,"v":56.5},{"s":40,"v":61.5},
{"s":41,"v":41.5},{"s":41,"v":46.0},{"s":41,"v":49.0},{"s":41,"v":55.5},{"s":41,"v":60.0},
{"s":42,"v":38.5},{"s":42,"v":43.0},{"s":42,"v":50.5},{"s":42,"v":57.0},{"s":42,"v":63.5},
{"s":43,"v":40.0},{"s":43,"v":45.5},{"s":43,"v":52.5},{"s":43,"v":56.0},{"s":43,"v":62.5},
{"s":44,"v":39.5},{"s":44,"v":44.0},{"s":44,"v":49.0},{"s":44,"v":54.5},{"s":44,"v":60.5},
{"s":45,"v":41.0},{"s":45,"v":46.5},{"s":45,"v":51.0},{"s":45,"v":57.5},{"s":45,"v":65.0},
{"s":46,"v":42.5},{"s":46,"v":47.0},{"s":46,"v":53.0},{"s":46,"v":58.0},{"s":46,"v":63.0},
{"s":47,"v":40.0},{"s":47,"v":45.0},{"s":47,"v":50.5},{"s":47,"v":55.5},{"s":47,"v":61.0},
{"s":48,"v":38.5},{"s":48,"v":44.5},{"s":48,"v":49.5},{"s":48,"v":56.0},{"s":48,"v":62.0},
{"s":49,"v":41.5},{"s":49,"v":46.0},{"s":49,"v":51.5},{"s":49,"v":57.0},{"s":49,"v":64.5},
{"s":50,"v":39.0},{"s":50,"v":43.5},{"s":50,"v":48.5},{"s":50,"v":54.0},{"s":50,"v":59.5},
{"s":51,"v":40.5},{"s":51,"v":45.5},{"s":51,"v":52.0},{"s":51,"v":56.5},{"s":51,"v":62.5},
{"s":52,"v":42.0},{"s":52,"v":46.5},{"s":52,"v":50.0},{"s":52,"v":55.5},{"s":52,"v":61.5},
{"s":53,"v":38.0},{"s":53,"v":44.0},{"s":53,"v":49.5},{"s":53,"v":57.5},{"s":53,"v":63.0},
{"s":54,"v":40.0},{"s":54,"v":45.0},{"s":54,"v":51.0},{"s":54,"v":56.0},{"s":54,"v":60.0},
{"s":55,"v":41.5},{"s":55,"v":46.5},{"s":55,"v":52.5},{"s":55,"v":58.0},{"s":55,"v":65.5},
{"s":56,"v":39.5},{"s":56,"v":44.0},{"s":56,"v":48.0},{"s":56,"v":54.5},{"s":56,"v":61.0},
{"s":57,"v":40.5},{"s":57,"v":45.5},{"s":57,"v":50.5},{"s":57,"v":55.0},{"s":57,"v":62.0},
{"s":58,"v":42.0},{"s":58,"v":47.0},{"s":58,"v":53.0},{"s":58,"v":57.5},{"s":58,"v":63.5},
{"s":59,"v":38.5},{"s":59,"v":43.5},{"s":59,"v":49.0},{"s":59,"v":54.5},{"s":59,"v":60.5},
{"s":60,"v":40.0},{"s":60,"v":45.0},{"s":60,"v":51.5},{"s":60,"v":56.5},{"s":60,"v":62.5},{"s":60,"v":75.0},
{"s":61,"v":41.0},{"s":61,"v":46.0},{"s":61,"v":50.0},{"s":61,"v":55.5},{"s":61,"v":61.0},
{"s":62,"v":39.5},{"s":62,"v":44.5},{"s":62,"v":49.5},{"s":62,"v":57.0},{"s":62,"v":64.0},
{"s":63,"v":42.5},{"s":63,"v":47.5},{"s":63,"v":52.0},{"s":63,"v":56.0},{"s":63,"v":60.0},
{"s":64,"v":38.0},{"s":64,"v":43.0},{"s":64,"v":48.5},{"s":64,"v":54.0},{"s":64,"v":59.0},
{"s":65,"v":40.5},{"s":65,"v":45.5},{"s":65,"v":51.0},{"s":65,"v":56.5},{"s":65,"v":63.0},
{"s":66,"v":41.5},{"s":66,"v":46.5},{"s":66,"v":50.5},{"s":66,"v":55.0},{"s":66,"v":62.5},
{"s":67,"v":39.0},{"s":67,"v":44.0},{"s":67,"v":49.5},{"s":67,"v":57.5},{"s":67,"v":64.5},
{"s":68,"v":40.0},{"s":68,"v":45.0},{"s":68,"v":52.5},{"s":68,"v":56.0},{"s":68,"v":61.5},
{"s":69,"v":42.0},{"s":69,"v":46.0},{"s":69,"v":50.0},{"s":69,"v":55.5},{"s":69,"v":60.5},
{"s":70,"v":38.5},{"s":70,"v":43.5},{"s":70,"v":49.0},{"s":70,"v":54.5},{"s":70,"v":61.0},
{"s":71,"v":41.0},{"s":71,"v":46.5},{"s":71,"v":51.5},{"s":71,"v":57.0},{"s":71,"v":63.5},
{"s":72,"v":40.0},{"s":72,"v":45.0},{"s":72,"v":50.5},{"s":72,"v":56.0},{"s":72,"v":62.0},{"s":72,"v":28.0},
{"s":73,"v":39.5},{"s":73,"v":44.5},{"s":73,"v":49.5},{"s":73,"v":55.0},{"s":73,"v":60.0},
{"s":74,"v":42.5},{"s":74,"v":47.0},{"s":74,"v":52.5},{"s":74,"v":57.5},{"s":74,"v":64.0},
{"s":75,"v":38.0},{"s":75,"v":43.5},{"s":75,"v":48.5},{"s":75,"v":54.0},{"s":75,"v":59.5},
{"s":76,"v":40.5},{"s":76,"v":45.5},{"s":76,"v":51.0},{"s":76,"v":56.5},{"s":76,"v":62.5},
{"s":77,"v":41.5},{"s":77,"v":46.0},{"s":77,"v":50.0},{"s":77,"v":55.5},{"s":77,"v":61.0},{"s":77,"v":85.0},
{"s":78,"v":39.0},{"s":78,"v":44.0},{"s":78,"v":49.0},{"s":78,"v":57.0},{"s":78,"v":64.5},
{"s":79,"v":40.0},{"s":79,"v":45.5},{"s":79,"v":52.0},{"s":79,"v":56.0},{"s":79,"v":60.5},
{"s":80,"v":42.0},{"s":80,"v":47.0},{"s":80,"v":50.5},{"s":80,"v":55.0},{"s":80,"v":62.0},
{"s":81,"v":38.5},{"s":81,"v":43.5},{"s":81,"v":48.5},{"s":81,"v":54.5},{"s":81,"v":60.0},
{"s":82,"v":41.0},{"s":82,"v":46.0},{"s":82,"v":51.5},{"s":82,"v":57.5},{"s":82,"v":63.5},
{"s":83,"v":40.0},{"s":83,"v":45.0},{"s":83,"v":50.0},{"s":83,"v":56.0},{"s":83,"v":61.5},
{"s":84,"v":39.5},{"s":84,"v":44.5},{"s":84,"v":49.5},{"s":84,"v":55.5},{"s":84,"v":62.0},
{"s":85,"v":42.0},{"s":85,"v":47.0},{"s":85,"v":53.0},{"s":85,"v":58.0},{"s":85,"v":64.0},
{"s":86,"v":40.5},{"s":86,"v":45.5},{"s":86,"v":50.5},{"s":86,"v":55.0},{"s":86,"v":61.0},
{"s":87,"v":30.0},{"s":87,"v":36.0},{"s":87,"v":42.0},{"s":87,"v":48.0},{"s":87,"v":56.0},
{"s":88,"v":38.0},{"s":88,"v":43.0},{"s":88,"v":49.0},{"s":88,"v":55.0},{"s":88,"v":60.0},
{"s":89,"v":41.0},{"s":89,"v":46.5},{"s":89,"v":51.5},{"s":89,"v":57.0},{"s":89,"v":63.0},
{"s":90,"v":39.5},{"s":90,"v":44.5},{"s":90,"v":49.0},{"s":90,"v":55.5},{"s":90,"v":61.5},
{"s":91,"v":40.0},{"s":91,"v":45.0},{"s":91,"v":52.0},{"s":91,"v":56.5},{"s":91,"v":62.5},
{"s":92,"v":42.5},{"s":92,"v":47.5},{"s":92,"v":50.5},{"s":92,"v":55.0},{"s":92,"v":60.0},
{"s":93,"v":38.5},{"s":93,"v":43.5},{"s":93,"v":48.0},{"s":93,"v":54.0},{"s":93,"v":61.0},
{"s":94,"v":41.5},{"s":94,"v":46.0},{"s":94,"v":51.0},{"s":94,"v":57.0},{"s":94,"v":64.5},
{"s":95,"v":40.0},{"s":95,"v":45.0},{"s":95,"v":50.0},{"s":95,"v":55.5},{"s":95,"v":62.0},
{"s":96,"v":39.0},{"s":96,"v":44.5},{"s":96,"v":49.5},{"s":96,"v":56.0},{"s":96,"v":63.0},
{"s":97,"v":41.0},{"s":97,"v":46.0},{"s":97,"v":52.5},{"s":97,"v":57.5},{"s":97,"v":64.0},
{"s":98,"v":40.5},{"s":98,"v":45.5},{"s":98,"v":50.5},{"s":98,"v":55.0},{"s":98,"v":61.5},
{"s":99,"v":38.0},{"s":99,"v":43.0},{"s":99,"v":49.0},{"s":99,"v":56.5},{"s":99,"v":62.5},{"s":99,"v":72.0},
{"s":100,"v":41.5},{"s":100,"v":46.5},{"s":100,"v":51.5},{"s":100,"v":57.0},{"s":100,"v":63.5},
{"s":101,"v":36.0},{"s":101,"v":41.0},{"s":101,"v":48.5},{"s":101,"v":55.0},{"s":101,"v":60.0},
{"s":102,"v":38.5},{"s":102,"v":44.0},{"s":102,"v":50.5},{"s":102,"v":56.5},{"s":102,"v":62.0},
{"s":103,"v":36.5},{"s":103,"v":42.0},{"s":103,"v":47.5},{"s":103,"v":53.0},{"s":103,"v":58.5},
{"s":104,"v":30.0},{"s":104,"v":35.0},{"s":104,"v":42.0},{"s":104,"v":48.0},{"s":104,"v":55.0},
{"s":105,"v":40.0},{"s":105,"v":45.0},{"s":105,"v":50.0},{"s":105,"v":55.5},{"s":105,"v":62.0},
{"s":106,"v":40.5},{"s":106,"v":46.0},{"s":106,"v":51.0},{"s":106,"v":57.0},{"s":106,"v":70.0},
{"s":107,"v":45.0},{"s":107,"v":52.0},{"s":107,"v":58.0},{"s":107,"v":64.0},{"s":107,"v":70.0},
{"s":108,"v":22.0},{"s":108,"v":30.0},{"s":108,"v":38.0},{"s":108,"v":44.0},{"s":108,"v":52.0},{"s":108,"v":60.0},{"s":108,"v":68.0},{"s":108,"v":76.0},{"s":108,"v":84.0},{"s":108,"v":90.0}],
"b1": [{"x":0.2,"y":2.1},{"x":0.25,"y":3.0},{"x":0.3,"y":1.2},{"x":0.35,"y":2.6},{"x":0.4,"y":5.1},{"x":0.45,"y":1.8},{"x":0.5,"y":3.4},{"x":0.5,"y":2.3},{"x":0.55,"y":1.5},{"x":0.6,"y":2.9},{"x":0.6,"y":4.0},{"x":0.65,"y":2.0},{"x":0.7,"y":1.1},{"x":0.7,"y":3.6},{"x":0.75,"y":2.5},{"x":0.8,"y":1.9},{"x":0.85,"y":4.4},{"x":0.9,"y":2.8},{"x":0.9,"y":1.6},{"x":0.95,"y":3.2},{"x":1.0,"y":2.2},{"x":1.0,"y":4.8},{"x":1.05,"y":1.4},{"x":1.1,"y":2.7},{"x":1.1,"y":3.5},{"x":1.15,"y":2.0},{"x":1.2,"y":1.3},{"x":1.25,"y":3.9},{"x":1.3,"y":2.4},{"x":1.35,"y":3.0},{"x":1.4,"y":1.7},{"x":1.45,"y":4.2},{"x":1.5,"y":2.6},{"x":1.55,"y":3.3},{"x":1.6,"y":2.1},{"x":1.7,"y":1.5},{"x":1.85,"y":3.7},{"x":2.0,"y":2.9},{"x":2.2,"y":4.1},{"x":2.4,"y":2.3},{"x":2.6,"y":3.4},{"x":2.8,"y":1.9},{"x":3.0,"y":2.8},{"x":3.2,"y":3.6},{"x":3.35,"y":8.8},{"x":3.45,"y":2.5},{"x":3.55,"y":4.3},{"x":3.6,"y":3.1},{"x":3.65,"y":2.0},{"x":3.7,"y":3.8},{"x":3.8,"y":5.0},{"x":3.9,"y":2.7},{"x":4.0,"y":3.3},{"x":4.1,"y":4.0},{"x":4.2,"y":2.2},{"x":4.4,"y":6.2},{"x":4.6,"y":3.5},{"x":4.8,"y":2.9},{"x":4.9,"y":6.3},{"x":5.0,"y":4.5},{"x":5.2,"y":3.0},{"x":5.5,"y":5.4},{"x":5.8,"y":3.9},{"x":6.1,"y":2.4},{"x":6.3,"y":4.7},{"x":6.5,"y":3.2},{"x":6.6,"y":1.7},{"x":6.7,"y":2.3},{"x":6.8,"y":3.6},{"x":6.9,"y":4.2},{"x":7.0,"y":3.0},{"x":7.1,"y":2.0},{"x":7.3,"y":4.4},{"x":7.6,"y":3.4},{"x":7.9,"y":4.9},{"x":8.9,"y":2.6},{"x":9.0,"y":3.8},{"x":9.2,"y":4.6},{"x":9.4,"y":3.1},{"x":9.6,"y":4.9},{"x":10.0,"y":4.2},{"x":10.4,"y":3.2},{"x":10.7,"y":3.6},{"x":11.0,"y":4.0},{"x":11.3,"y":4.8},{"x":11.6,"y":10.6},{"x":11.9,"y":10.3},{"x":12.1,"y":5.8},{"x":12.3,"y":3.3},{"x":13.6,"y":4.4},{"x":14.2,"y":3.5},{"x":15.2,"y":5.0},{"x":18.3,"y":3.5},{"x":19.4,"y":7.1},{"x":21.5,"y":3.7},{"x":21.6,"y":2.6},{"x":23.4,"y":8.9},{"x":25.0,"y":7.3},{"x":27.5,"y":7.5},{"x":36.8,"y":15.8},{"x":44.4,"y":3.8},{"x":48.5,"y":13.7},{"x":51.7,"y":11.2},{"x":59.4,"y":8.1},{"x":68.8,"y":17.5},{"x":68.8,"y":9.2}],
"b2": [{"x":0.2,"y":0.6},{"x":0.25,"y":1.3},{"x":0.3,"y":0.2},{"x":0.35,"y":0.9},{"x":0.4,"y":0.4},{"x":0.45,"y":1.2},{"x":0.5,"y":0.1},{"x":0.5,"y":0.7},{"x":0.55,"y":0.3},{"x":0.6,"y":1.1},{"x":0.6,"y":0.5},{"x":0.65,"y":0.05},{"x":0.7,"y":0.8},{"x":0.7,"y":0.25},{"x":0.75,"y":0.6},{"x":0.8,"y":1.0},{"x":0.85,"y":0.15},{"x":0.9,"y":0.45},{"x":0.9,"y":0.7},{"x":0.95,"y":0.3},{"x":1.0,"y":1.25},{"x":1.0,"y":0.1},{"x":1.05,"y":0.55},{"x":1.1,"y":0.35},{"x":1.1,"y":0.85},{"x":1.15,"y":0.2},{"x":1.2,"y":0.65},{"x":1.25,"y":1.15},{"x":1.3,"y":0.4},{"x":1.35,"y":0.1},{"x":1.4,"y":0.5},{"x":1.45,"y":0.75},{"x":1.5,"y":0.3},{"x":1.55,"y":1.6},{"x":1.6,"y":0.2},{"x":1.7,"y":0.95},{"x":1.85,"y":0.45},{"x":2.0,"y":0.15},{"x":2.2,"y":0.6},{"x":2.4,"y":1.05},{"x":2.6,"y":0.3},{"x":2.8,"y":0.5},{"x":3.0,"y":0.1},{"x":3.2,"y":0.8},{"x":3.35,"y":1.58},{"x":3.45,"y":0.35},{"x":3.55,"y":0.6},{"x":3.6,"y":0.2},{"x":3.65,"y":1.2},{"x":3.7,"y":0.4},{"x":3.8,"y":0.55},{"x":3.9,"y":0.1},{"x":4.0,"y":0.3},{"x":4.1,"y":1.6},{"x":4.2,"y":0.7},{"x":4.4,"y":1.45},{"x":4.6,"y":0.25},{"x":4.8,"y":0.5},{"x":4.9,"y":1.58},{"x":5.0,"y":0.15},{"x":5.2,"y":0.45},{"x":5.5,"y":1.0},{"x":5.8,"y":0.3},{"x":6.1,"y":0.6},{"x":6.3,"y":0.2},{"x":6.5,"y":1.15},{"x":6.6,"y":0.4},{"x":6.7,"y":0.1},{"x":6.8,"y":0.55},{"x":6.9,"y":0.25},{"x":7.0,"y":1.54},{"x":7.1,"y":0.35},{"x":7.3,"y":0.15},{"x":7.6,"y":0.95},{"x":7.9,"y":0.6},{"x":8.9,"y":0.4},{"x":9.0,"y":0.1},{"x":9.2,"y":0.75},{"x":9.4,"y":0.3},{"x":9.6,"y":1.05},{"x":10.0,"y":1.16},{"x":10.4,"y":0.2},{"x":10.7,"y":0.5},{"x":11.0,"y":0.1},{"x":11.3,"y":1.89},{"x":11.6,"y":4.46},{"x":11.9,"y":2.99},{"x":12.1,"y":1.89},{"x":12.3,"y":0.6},{"x":13.6,"y":0.05},{"x":14.2,"y":0.81},{"x":15.2,"y":0.32},{"x":18.3,"y":0.29},{"x":19.4,"y":0.08},{"x":21.5,"y":0.84},{"x":21.6,"y":0.39},{"x":23.4,"y":1.12},{"x":25.0,"y":0.7},{"x":27.5,"y":2.17},{"x":36.8,"y":0.08},{"x":44.4,"y":1.75},{"x":48.5,"y":5.13},{"x":51.7,"y":1.12},{"x":59.4,"y":1.43},{"x":68.8,"y":3.73},{"x":68.8,"y":0.67}],
"r1": [{"x":0,"y":2.5},{"x":68.8,"y":13.3}],
"r2": [{"x":0,"y":0.37},{"x":68.8,"y":2.43}]
},
"hconcat": [
{
  "width": 444, "height": 619,
  "layer": [
    {"data": {"name": "non"}, "mark": {"type": "point", "filled": true, "size": 5, "opacity": 1},
     "encoding": {
       "x": {"field": "s", "type": "quantitative", "scale": {"domain": [0, 108.5], "nice": false, "zero": false},
             "axis": {"title": "Subject", "ticks": false, "labels": false, "titleFontSize": 13, "titlePadding": 4}},
       "y": {"field": "v", "type": "quantitative", "scale": {"domain": [0, 100], "nice": false},
             "axis": {"values": [0, 25, 50, 75, 100], "labelExpr": "datum.value == 0 ? 'ND' : datum.label", "labelFontSize": 11, "tickSize": 5, "labelPadding": 2, "title": "Allelic fraction of alterations by plasma NGS (%)", "titleFontSize": 13, "titlePadding": 6}},
       "color": {"datum": "Non-coding alterations", "type": "nominal",
        "scale": {"domain": ["EGFR driver mutation", "EGFR Q787Q (known SNP)", "Mean of heterozygous band", "Other coding alterations", "Non-coding alterations"], "range": ["#0a14f5", "#e3b414", "#000000", "#9a9a9a", "#cfcfcf"]},
        "legend": {"orient": "none", "legendX": 9, "legendY": 18, "title": null, "padding": 0, "labelFontSize": 13, "labelFontWeight": "bold", "labelColor": "black", "labelFont": "Liberation Sans", "labelLimit": 400, "rowPadding": 2, "labelOffset": 9, "symbolSize": 30, "symbolStrokeWidth": 1.7}},
       "shape": {"datum": "Non-coding alterations", "type": "nominal",
        "scale": {"domain": ["EGFR driver mutation", "EGFR Q787Q (known SNP)", "Mean of heterozygous band", "Other coding alterations", "Non-coding alterations"], "range": ["circle", "circle", "stroke", "circle", "circle"]},
        "legend": {"orient": "none", "legendX": 9, "legendY": 18, "title": null, "padding": 0, "labelFontSize": 13, "labelFontWeight": "bold", "labelColor": "black", "labelFont": "Liberation Sans", "labelLimit": 400, "rowPadding": 2, "labelOffset": 9, "symbolSize": 30, "symbolStrokeWidth": 1.7}},
       "stroke": {"datum": "Non-coding alterations", "type": "nominal",
        "scale": {"domain": ["EGFR driver mutation", "EGFR Q787Q (known SNP)", "Mean of heterozygous band", "Other coding alterations", "Non-coding alterations"], "range": ["transparent", "transparent", "#000000", "transparent", "transparent"]},
        "legend": {"orient": "none", "legendX": 9, "legendY": 18, "title": null, "padding": 0, "labelFontSize": 13, "labelFontWeight": "bold", "labelColor": "black", "labelFont": "Liberation Sans", "labelLimit": 400, "rowPadding": 2, "labelOffset": 9, "symbolSize": 30, "symbolStrokeWidth": 1.7}}}},
    {"data": {"name": "cod"}, "mark": {"type": "point", "filled": true, "size": 11, "opacity": 1},
     "encoding": {"x": {"field": "s", "type": "quantitative"}, "y": {"field": "v", "type": "quantitative"},
       "color": {"datum": "Other coding alterations", "type": "nominal"},
       "shape": {"datum": "Other coding alterations", "type": "nominal"},
       "stroke": {"datum": "Other coding alterations", "type": "nominal"}}},
    {"data": {"name": "mean"}, "mark": {"type": "tick", "orient": "horizontal", "size": 7, "thickness": 1.5, "opacity": 1},
     "encoding": {"x": {"field": "s", "type": "quantitative"}, "y": {"field": "v", "type": "quantitative"}, "color": {"datum": "Mean of heterozygous band", "type": "nominal"}}},
    {"data": {"name": "snp"}, "mark": {"type": "point", "filled": true, "size": 30, "opacity": 1},
     "encoding": {"x": {"field": "s", "type": "quantitative"}, "y": {"field": "v", "type": "quantitative"},
       "color": {"datum": "EGFR Q787Q (known SNP)", "type": "nominal"},
       "shape": {"datum": "EGFR Q787Q (known SNP)", "type": "nominal"},
       "stroke": {"datum": "EGFR Q787Q (known SNP)", "type": "nominal"}}},
    {"data": {"name": "drv"}, "mark": {"type": "point", "filled": true, "size": 30, "opacity": 1},
     "encoding": {"x": {"field": "s", "type": "quantitative"}, "y": {"field": "v", "type": "quantitative"},
       "color": {"datum": "EGFR driver mutation", "type": "nominal"},
       "shape": {"datum": "EGFR driver mutation", "type": "nominal"},
       "stroke": {"datum": "EGFR driver mutation", "type": "nominal"}}},
    {"data": {"values": [{"lbl": "A"}]}, "mark": {"type": "text", "fontSize": 22, "font": "Liberation Sans", "align": "center", "baseline": "middle", "color": "black"},
     "encoding": {"text": {"field": "lbl"}, "x": {"datum": -7.3}, "y": {"datum": 101}}}
  ]
},
{
  "spacing": 26,
  "vconcat": [
    {
      "width": 213, "height": 149,
      "layer": [
        {"data": {"name": "b1"}, "mark": {"type": "point", "filled": true, "size": 38, "color": "black", "opacity": 1},
         "encoding": {
          "x": {"field": "x", "type": "quantitative", "scale": {"domain": [0, 80], "nice": false},
              "axis": {"values": [0, 20, 40, 60, 80], "labelExpr": "datum.value == 0 ? 'ND' : datum.label", "labelFontSize": 11, "tickSize": 4, "labelFlush": false, "title": "AF of EGFR driver mutation", "titleFontSize": 10.5, "titlePadding": 4}},
          "y": {"field": "y", "type": "quantitative", "scale": {"domain": [0, 20.84], "nice": false},
              "axis": {"values": [0, 5, 10, 15, 20], "domain": false, "labelFontSize": 11, "tickSize": 4, "title": "Standard deviation of AF", "titleFontSize": 10.5, "titlePadding": 5}}}},
        {"data": {"values": [{"lbl": "axis"}]}, "mark": {"type": "rule", "color": "black", "strokeWidth": 1.5},
         "encoding": {"x": {"datum": 0}, "y": {"datum": 0}, "y2": {"datum": 20}}},
        {"data": {"name": "r1"}, "mark": {"type": "line", "color": "black", "strokeWidth": 1.5},
         "encoding": {"x": {"field": "x", "type": "quantitative"}, "y": {"field": "y", "type": "quantitative"}}},
        {"data": {"values": [{"lbl": "p < 0.0001"}]}, "mark": {"type": "text", "fontSize": 10.5, "fontWeight": "bold", "align": "left", "baseline": "middle", "color": "black"},
         "encoding": {"text": {"field": "lbl"}, "x": {"datum": 4.9}, "y": {"datum": 18.9}}},
        {"data": {"values": [{"lbl": "R² = 0.5581"}]}, "mark": {"type": "text", "fontSize": 10.5, "fontWeight": "bold", "align": "left", "baseline": "middle", "color": "black"},
         "encoding": {"text": {"field": "lbl"}, "x": {"datum": 4.9}, "y": {"datum": 17.2}}},
        {"data": {"values": [{"lbl": "B"}]}, "mark": {"type": "text", "fontSize": 22, "align": "center", "baseline": "middle", "color": "black"},
         "encoding": {"text": {"field": "lbl"}, "x": {"datum": -12}, "y": {"datum": 21.68}}}
      ]
    },
    {
      "width": 213, "height": 143,
      "layer": [
        {"data": {"name": "b2"}, "mark": {"type": "point", "filled": true, "size": 38, "color": "black", "opacity": 1},
         "encoding": {
          "x": {"field": "x", "type": "quantitative", "scale": {"domain": [0, 80], "nice": false},
              "axis": {"values": [0, 20, 40, 60, 80], "labelExpr": "datum.value == 0 ? 'ND' : datum.label", "labelFontSize": 11, "tickSize": 4, "labelFlush": false, "title": "AF of EGFR driver mutation", "titleFontSize": 10.5, "titlePadding": 4}},
          "y": {"field": "y", "type": "quantitative", "scale": {"domain": [0, 6], "nice": false},
              "axis": {"values": [0, 2, 4, 6], "labelFontSize": 11, "tickSize": 4, "title": ["Absolute difference between", "case and population mean (%)"], "titleFontSize": 10.5, "titlePadding": 5}}}},
        {"data": {"name": "r2"}, "mark": {"type": "line", "color": "black", "strokeWidth": 1.5},
         "encoding": {"x": {"field": "x", "type": "quantitative"}, "y": {"field": "y", "type": "quantitative"}}},
        {"data": {"values": [{"lbl": "p < 0.0001"}]}, "mark": {"type": "text", "fontSize": 10.5, "fontWeight": "bold", "align": "left", "baseline": "middle", "color": "black"},
         "encoding": {"text": {"field": "lbl"}, "x": {"datum": 4.9}, "y": {"datum": 5.72}}},
        {"data": {"values": [{"lbl": "R² = 0.2327"}]}, "mark": {"type": "text", "fontSize": 10.5, "fontWeight": "bold", "align": "left", "baseline": "middle", "color": "black"},
         "encoding": {"text": {"field": "lbl"}, "x": {"datum": 4.9}, "y": {"datum": 5.06}}}
      ]
    }
  ]
}
]
}
